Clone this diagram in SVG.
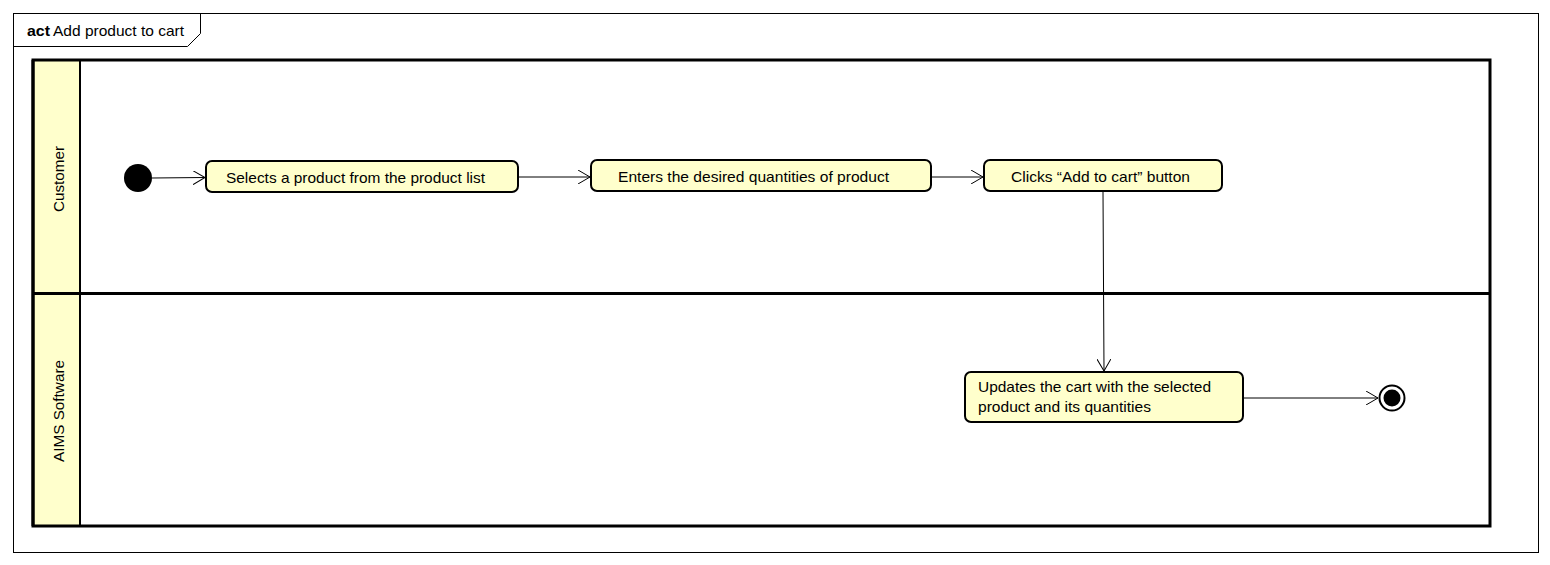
<svg xmlns="http://www.w3.org/2000/svg" width="1550" height="565" viewBox="0 0 1550 565">
<style>
text{font-family:"Liberation Sans",Arial,sans-serif;font-size:14.5px;fill:#000}
.act{fill:#ffffcc;stroke:#000;stroke-width:2}
.lane{fill:none;stroke:#000;stroke-width:3}
.hdr{fill:#ffffcc;stroke:#000;stroke-width:2}
.edge{fill:none;stroke:#000;stroke-width:1}
</style>
<defs>
<marker id="arr" markerWidth="14" markerHeight="14" refX="12" refY="7" orient="auto" markerUnits="userSpaceOnUse">
<path d="M0,0 L12,7 L0,14" fill="none" stroke="#000" stroke-width="1"/>
</marker>
</defs>
<rect width="1550" height="565" fill="#fff"/>
<g id="frame">
<rect x="13.5" y="13.5" width="1525" height="539" fill="none" stroke="#000" stroke-width="1"/>
<path d="M13.5,46.5 H187.5 L200.5,33.5 V13.5" fill="none" stroke="#000" stroke-width="1"/>
<text x="27" y="36" font-weight="bold" textLength="23" lengthAdjust="spacingAndGlyphs">act</text>
<text x="53" y="36" textLength="131" lengthAdjust="spacingAndGlyphs">Add product to cart</text>
</g>
<g id="lanes">
<rect x="33" y="60" width="47" height="466" class="hdr"/>
<rect x="33" y="60" width="1457" height="466" class="lane"/>
<line x1="33" y1="60" x2="33" y2="526" stroke="#000" stroke-width="3"/>
<line x1="80" y1="60" x2="80" y2="526" stroke="#000" stroke-width="2"/>
<line x1="33" y1="293.5" x2="1490" y2="293.5" stroke="#000" stroke-width="3"/>
<text transform="translate(64,212) rotate(-90)" textLength="66" lengthAdjust="spacingAndGlyphs">Customer</text>
<text transform="translate(64,462) rotate(-90)" textLength="102" lengthAdjust="spacingAndGlyphs">AIMS Software</text>
</g>
<g id="start"><circle cx="138" cy="178" r="14" fill="#000"/></g>
<g id="a1"><rect x="206" y="161" width="312" height="31" rx="6" class="act"/><text x="226" y="183" textLength="259" lengthAdjust="spacingAndGlyphs">Selects a product from the product list</text></g>
<g id="a2"><rect x="591" y="160" width="340" height="31" rx="6" class="act"/><text x="618" y="182" textLength="271" lengthAdjust="spacingAndGlyphs">Enters the desired quantities of product</text></g>
<g id="a3"><rect x="984" y="160" width="238" height="31" rx="6" class="act"/><text x="1011" y="182" textLength="179" lengthAdjust="spacingAndGlyphs">Clicks “Add to cart” button</text></g>
<g id="a4"><rect x="965" y="372" width="278" height="50" rx="6" class="act"/><text x="978" y="392" textLength="233" lengthAdjust="spacingAndGlyphs">Updates the cart with the selected</text><text x="978" y="412" textLength="173" lengthAdjust="spacingAndGlyphs">product and its quantities</text></g>
<g id="end"><circle cx="1392" cy="398" r="12.5" fill="#fff" stroke="#000" stroke-width="2"/><circle cx="1392" cy="398" r="8.5" fill="#000"/></g>
<g id="connectors">
<line x1="152" y1="178" x2="205" y2="177.5" class="edge" marker-end="url(#arr)"/>
<line x1="519" y1="177" x2="590" y2="177" class="edge" marker-end="url(#arr)"/>
<line x1="932" y1="177" x2="983" y2="177" class="edge" marker-end="url(#arr)"/>
<line x1="1103" y1="192" x2="1104" y2="371" class="edge" marker-end="url(#arr)"/>
<line x1="1244" y1="398" x2="1378" y2="398" class="edge" marker-end="url(#arr)"/>
</g>
</svg>
